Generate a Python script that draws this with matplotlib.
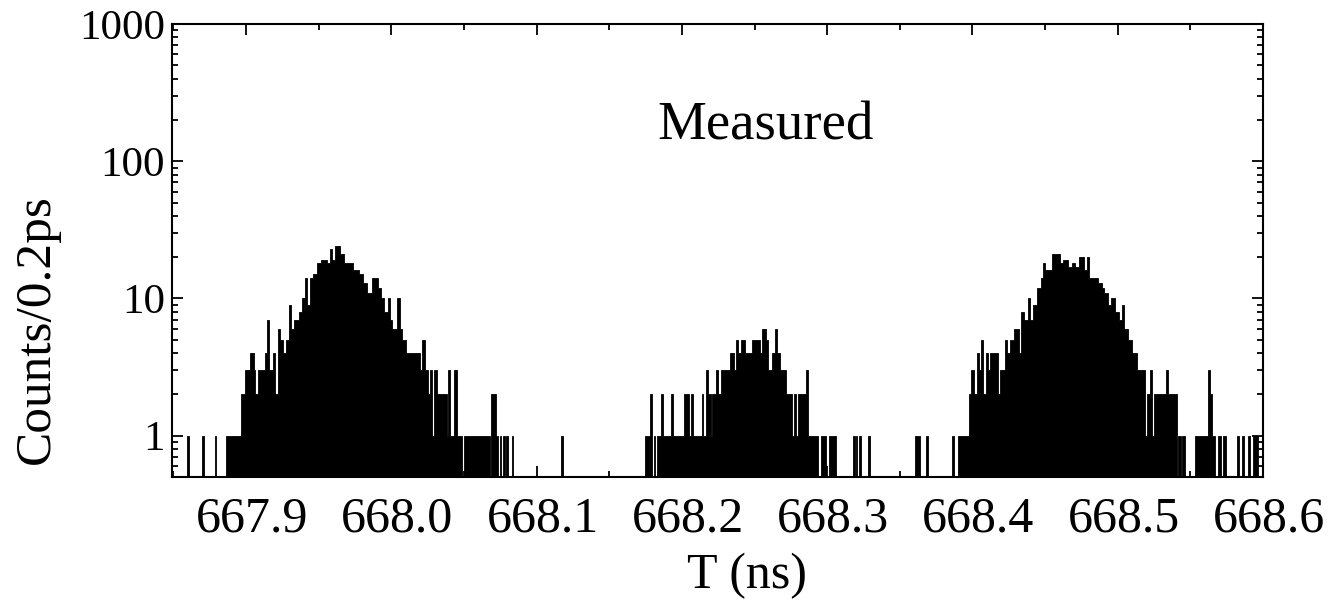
import numpy as np
import matplotlib
matplotlib.use("Agg")
import matplotlib.pyplot as plt
from matplotlib.ticker import MultipleLocator, FixedLocator, FixedFormatter, LogLocator, NullFormatter
from matplotlib.transforms import ScaledTranslation

# ---- data: histogram envelope (bin edges in ns, counts per 0.2 ps; 0 = empty) ----
edges_left = [667.8592, 667.8606, 667.8697, 667.8709, 667.8784, 667.8795, 667.8862, 667.8965,
              667.8995, 667.9025, 667.9052, 667.9063, 667.9082, 667.9132, 667.9144, 667.9159,
              667.9185, 667.9201, 667.9219, 667.9233, 667.9251, 667.9274, 667.9293, 667.9306,
              667.9329, 667.9361, 667.9384, 667.9403, 667.9420, 667.9439, 667.9462, 667.9489,
              667.9513, 667.9558, 667.9576, 667.9590, 667.9613, 667.9647, 667.9671, 667.9739,
              667.9774, 667.9808, 667.9831, 667.9865, 667.9906, 667.9929, 667.9952, 667.9975,
              667.9991, 668.0007, 668.0039, 668.0057, 668.0076, 668.0099, 668.0197, 668.0213,
              668.0231, 668.0250, 668.0266, 668.0282, 668.0296, 668.0316, 668.0380, 668.0392,
              668.0406, 668.0433, 668.0451, 668.0483, 668.0497, 668.0678, 668.0689, 668.0717,
              668.0731, 668.0746, 668.0755, 668.0770, 668.0779, 668.0792, 668.0801, 668.0827,
              668.0836, 668.1170, 668.1180]
counts_left = [1, 0, 1, 0, 1, 0, 1, 2, 3, 4, 3, 2, 3, 4, 7, 3, 4, 2, 6, 5, 4, 5, 9, 6, 7, 8,
               10, 14, 9, 14, 15, 18, 19, 18, 23, 19, 24, 21, 18, 16, 15, 13, 11, 14, 12, 10,
               8, 10, 7, 6, 10, 6, 5, 4, 3, 5, 3, 2, 3, 1, 3, 2, 1, 3, 1, 3, 1, 0, 1, 0, 2, 1,
               0, 1, 0, 1, 0, 1, 0, 1, 0, 1]

edges_mid = [668.1748, 668.1780, 668.1791, 668.1805, 668.1816, 668.1828, 668.1855, 668.1867,
             668.1924, 668.1940, 668.2016, 668.2050, 668.2061, 668.2073, 668.2135, 668.2146,
             668.2164, 668.2180, 668.2199, 668.2210, 668.2238, 668.2251, 668.2267, 668.2329,
             668.2359, 668.2371, 668.2389, 668.2405, 668.2435, 668.2480, 668.2535, 668.2554,
             668.2581, 668.2595, 668.2618, 668.2641, 668.2652, 668.2673, 668.2714, 668.2760,
             668.2771, 668.2787, 668.2801, 668.2851, 668.2865, 668.2938, 668.2955, 668.2993,
             668.3012, 668.3058, 668.3179, 668.3190, 668.3195, 668.3206, 668.3222, 668.3236,
             668.3282, 668.3293, 668.3607, 668.3642, 668.3683, 668.3694]
counts_mid = [1, 2, 0, 1, 0, 1, 2, 1, 2, 1, 2, 1, 2, 1, 2, 1, 3, 2, 1, 2, 3, 2, 3, 4, 3, 5,
              4, 5, 4, 5, 4, 6, 5, 3, 4, 6, 4, 3, 2, 1, 2, 1, 2, 3, 1, 0, 1, 0, 1, 0, 1, 0,
              1, 0, 1, 0, 1, 0, 1, 0, 1]

edges_right = [668.3859, 668.3871, 668.3901, 668.3974, 668.3990, 668.4008, 668.4031, 668.4043,
               668.4059, 668.4072, 668.4093, 668.4107, 668.4123, 668.4175, 668.4191, 668.4221,
               668.4237, 668.4260, 668.4283, 668.4317, 668.4336, 668.4352, 668.4381, 668.4397,
               668.4420, 668.4443, 668.4473, 668.4489, 668.4501, 668.4546, 668.4604, 668.4626,
               668.4661, 668.4684, 668.4707, 668.4734, 668.4771, 668.4787, 668.4803, 668.4867,
               668.4890, 668.4908, 668.4936, 668.4954, 668.4981, 668.5009, 668.5027, 668.5043,
               668.5073, 668.5101, 668.5130, 668.5188, 668.5199, 668.5222, 668.5233, 668.5252,
               668.5330, 668.5348, 668.5405, 668.5417, 668.5435, 668.5444, 668.5462, 668.5531,
               668.5618, 668.5634, 668.5646, 668.5673, 668.5687, 668.5714, 668.5726, 668.5744,
               668.5824, 668.5836, 668.5856, 668.5868, 668.5897, 668.5909, 668.5932, 668.5966]
counts_right = [1, 0, 1, 2, 3, 2, 4, 3, 5, 2, 4, 3, 4, 2, 3, 5, 4, 5, 6, 4, 8, 7, 10, 7, 9,
                12, 14, 18, 16, 21, 18, 19, 17, 18, 17, 20, 16, 20, 14, 13, 12, 11, 9, 10, 8,
                7, 9, 6, 5, 4, 3, 1, 2, 3, 1, 2, 3, 2, 0, 1, 0, 1, 0, 1, 3, 2, 1, 0, 1, 0, 1,
                0, 1, 0, 1, 0, 1, 0, 1]

x_ticks = [667.9, 668.0, 668.1, 668.2, 668.3, 668.4, 668.5, 668.6]
x_tick_labels = ["667.9", "668.0", "668.1", "668.2", "668.3", "668.4", "668.5", "668.6"]
y_ticks = [1, 10, 100, 1000]
y_tick_labels = ["1", "10", "100", "1000"]

# ---- plot ----
plt.rcParams["font.family"] = ["Liberation Serif", "DejaVu Serif"]

W, H = 1334, 605
fig = plt.figure(figsize=(W / 100, H / 100), dpi=100)
ax = fig.add_axes([172 / W, 1 - 477 / H, (1263 - 172) / W, (477 - 24) / H])

BASE = 0.1  # below the visible range: empty bins draw nothing
for edges, counts in [(edges_left, counts_left), (edges_mid, counts_mid), (edges_right, counts_right)]:
    c = np.asarray(counts, dtype=float)
    c[c <= 0] = BASE
    ax.stairs(c, np.asarray(edges), baseline=BASE, fill=True,
              facecolor="black", edgecolor="black", linewidth=0.6)

ax.set_yscale("log")
ax.set_xlim(667.849, 668.6)
ax.set_ylim(0.5, 1000)

ax.xaxis.set_major_locator(FixedLocator(x_ticks))
ax.xaxis.set_major_formatter(FixedFormatter(x_tick_labels))
ax.xaxis.set_minor_locator(MultipleLocator(0.05))
ax.yaxis.set_major_locator(FixedLocator(y_ticks))
ax.yaxis.set_major_formatter(FixedFormatter(y_tick_labels))
ax.yaxis.set_minor_locator(LogLocator(base=10, subs=np.arange(2, 10)))
ax.yaxis.set_minor_formatter(NullFormatter())

ax.tick_params(which="both", direction="in", top=True, right=True, width=1.3, color="black")
ax.tick_params(which="major", length=8)
ax.tick_params(which="minor", length=4.5)
ax.tick_params(axis="x", which="major", labelsize=36, pad=14)
ax.tick_params(axis="y", which="major", labelsize=31, pad=5)
for sp in ax.spines.values():
    sp.set_linewidth(1.5)

shift = ScaledTranslation(6 / 100, 0, fig.dpi_scale_trans)
for lab in ax.get_xticklabels():
    lab.set_transform(lab.get_transform() + shift)

fig.text(747 / W, 1 - 588 / H, "T (ns)", ha="center", va="baseline", fontsize=36)
fig.text(37 / W, 1 - 329 / H, "Counts/0.2ps", ha="center", va="center",
         rotation=90, fontsize=37)
fig.text(766 / W, 1 - 140 / H, "Measured", ha="center", va="baseline", fontsize=39.5)

fig.savefig("out.png", dpi=100)
